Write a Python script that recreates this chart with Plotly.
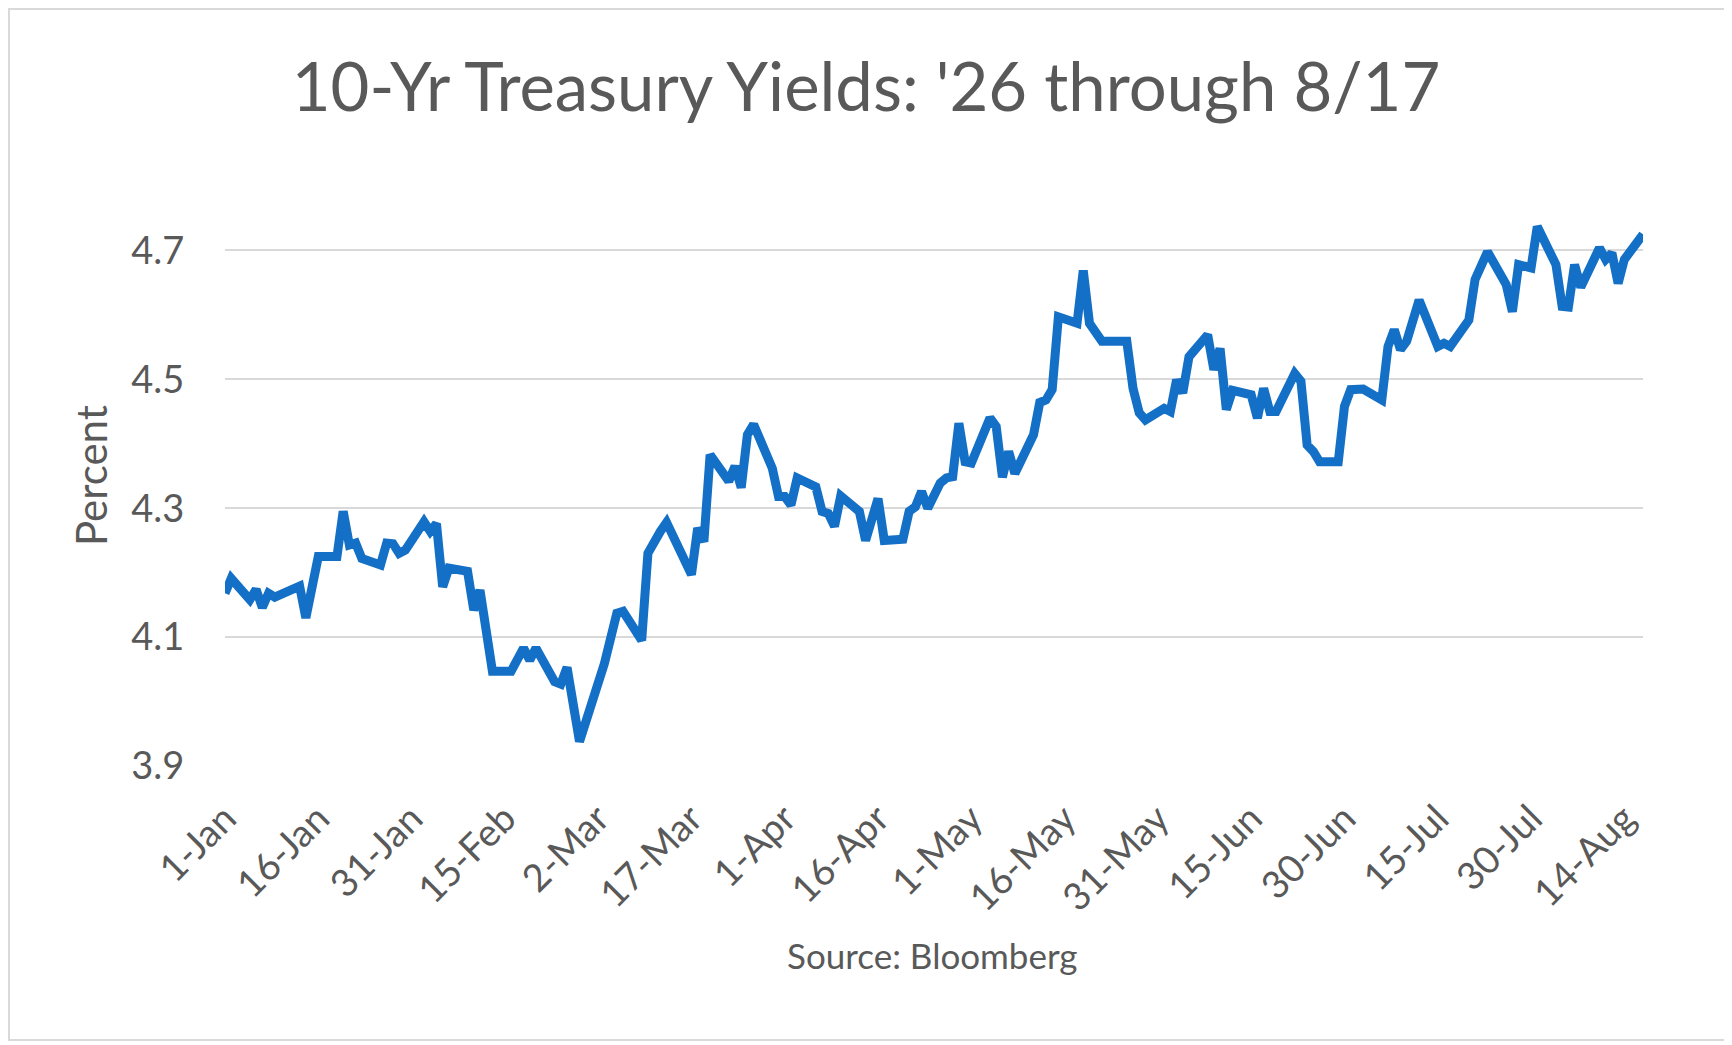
import pandas as pd
import plotly.graph_objects as go

# 10-yr treasury yield
# day offsets counted from 1-Jan-2026 (trading days only)
days = [0, 1, 4, 5, 6, 7, 8, 12, 13, 15, 18, 19, 20, 21, 22, 25, 26, 27, 28, 29,
        32, 33, 34, 35, 36, 39, 40, 41, 43, 46, 48, 49, 50, 53, 54, 55, 57, 61, 63, 64,
        67, 68, 70, 71, 75, 76, 77, 78, 81, 82, 83, 84, 85, 88, 89, 90, 91, 92, 95, 96,
        97, 98, 99, 102, 103, 105, 106, 109, 110, 111, 112, 113, 115, 116, 117, 118, 119, 120, 123, 124,
        125, 126, 127, 130, 131, 132, 133, 134, 137, 138, 139, 141, 145, 146, 147, 148, 151, 152, 153, 154,
        155, 158, 159, 160, 161, 162, 165, 166, 167, 168, 169, 172, 173, 174, 175, 176, 179, 180, 181, 183,
        186, 187, 188, 189, 190, 192, 195, 196, 197, 200, 201, 203, 206, 207, 208, 210, 211, 214, 215, 216,
        217, 218, 221, 222, 223, 224, 225, 228]

yields = [4.168, 4.191, 4.158, 4.174, 4.146, 4.168, 4.162, 4.179, 4.130, 4.225, 4.225, 4.295, 4.243, 4.246, 4.222, 4.212, 4.246, 4.245, 4.230, 4.235,
          4.279, 4.264, 4.276, 4.178, 4.207, 4.202, 4.142, 4.173, 4.047, 4.047, 4.083, 4.064, 4.083, 4.031, 4.027, 4.053, 3.938, 4.059, 4.137, 4.140,
          4.095, 4.230, 4.264, 4.278, 4.197, 4.269, 4.248, 4.383, 4.342, 4.365, 4.332, 4.414, 4.430, 4.362, 4.318, 4.318, 4.305, 4.347, 4.333, 4.295,
          4.292, 4.272, 4.319, 4.295, 4.250, 4.315, 4.250, 4.252, 4.295, 4.302, 4.326, 4.300, 4.339, 4.347, 4.349, 4.432, 4.372, 4.370, 4.440, 4.427,
          4.348, 4.388, 4.354, 4.414, 4.464, 4.468, 4.484, 4.597, 4.587, 4.669, 4.587, 4.559, 4.559, 4.486, 4.448, 4.437, 4.455, 4.450, 4.499, 4.479,
          4.535, 4.569, 4.515, 4.548, 4.453, 4.483, 4.476, 4.440, 4.486, 4.450, 4.450, 4.509, 4.497, 4.398, 4.388, 4.372, 4.372, 4.458, 4.484, 4.485,
          4.468, 4.551, 4.577, 4.546, 4.559, 4.623, 4.551, 4.556, 4.551, 4.592, 4.655, 4.698, 4.647, 4.605, 4.678, 4.673, 4.737, 4.678, 4.613, 4.612,
          4.678, 4.643, 4.704, 4.686, 4.696, 4.649, 4.686, 4.725]

# x tick every 15 days, y ticks
tick_days = [0, 15, 30, 45, 60, 75, 90, 105, 120, 135, 150, 165, 180, 195, 210, 225]
y_ticks = [3.9, 4.1, 4.3, 4.5, 4.7]

start = pd.Timestamp('2026-01-01')
dates = start + pd.to_timedelta(days, unit='D')
tick_dates = start + pd.to_timedelta(tick_days, unit='D')

# the page body adds an 8px margin, so the figure is laid out 8px smaller
OFF = 8
W, H = 1732 - OFF, 1045 - OFF
L, R, T, B = 225 - OFF, 89, 186 - OFF, 279
pw, ph = W - L - R, H - T - B
GREY = '#595959'
FONT = 'Lato'


def px_x(x):
    # window pixel -> paper x
    return (x - OFF - L) / pw


def px_y(y):
    # window pixel -> paper y
    return 1 - (y - OFF - T) / ph


fig = go.Figure()
fig.add_trace(go.Scatter(
    x=dates, y=yields, mode='lines',
    line=dict(color='#1470C6', width=9),
    hoverinfo='x+y'
))

fig.update_layout(
    width=W, height=H,
    margin=dict(l=L, r=R, t=T, b=B),
    paper_bgcolor='white', plot_bgcolor='white',
    showlegend=False,
    font=dict(family=FONT, color=GREY),
    title=dict(text="10-Yr Treasury Yields: '26 through 8/17",
               x=(866 - OFF) / W, xanchor='center', y=1 - 79.5 / H, yanchor='middle',
               font=dict(size=67, color=GREY, family=FONT)),
)

fig.update_xaxes(
    type='date',
    range=[start, start + pd.Timedelta(days=228)],
    tickvals=tick_dates, tickformat='%-d-%b',
    tickangle=-45, tickfont=dict(size=38, color=GREY),
    ticks='outside', ticklen=14, tickcolor='rgba(0,0,0,0)',
    showgrid=False, showline=False, zeroline=False,
)

fig.update_yaxes(
    range=[3.9, 4.8],
    tickvals=y_ticks, tickformat='.1f',
    tickfont=dict(size=38, color=GREY),
    ticks='outside', ticklen=32, tickcolor='rgba(0,0,0,0)',
    showgrid=True, gridcolor='#D9D9D9', gridwidth=2,
    showline=False, zeroline=False,
)

# y axis title
fig.add_annotation(text='Percent', xref='paper', yref='paper',
                   x=px_x(91), y=px_y(476), textangle=-90,
                   xanchor='center', yanchor='middle', showarrow=False,
                   font=dict(size=42, color=GREY, family=FONT))

# source note under the axis
fig.add_annotation(text='Source: Bloomberg', xref='paper', yref='paper',
                   x=px_x(932), y=px_y(955),
                   xanchor='center', yanchor='middle', showarrow=False,
                   font=dict(size=35, color=GREY, family=FONT))

# thin outer frame of the chart
fig.add_shape(type='rect', xref='paper', yref='paper',
              x0=px_x(9), x1=px_x(1726), y0=px_y(1040), y1=px_y(9),
              line=dict(color='#D9D9D9', width=2), fillcolor='rgba(0,0,0,0)', layer='below')

fig.write_html("out.html")
